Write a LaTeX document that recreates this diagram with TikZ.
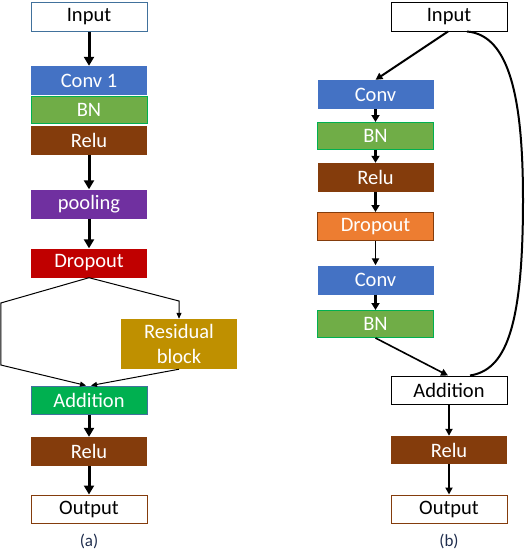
\documentclass[tikz,border=0pt]{standalone}
\usepackage{fontspec}
\setmainfont{Carlito}
\usetikzlibrary{arrows.meta}
\definecolor{cblue}{HTML}{4472C4}
\definecolor{cgreen}{HTML}{70AD47}
\definecolor{cgreenb}{HTML}{00B050}
\definecolor{cbrown}{HTML}{843C0C}
\definecolor{cpurple}{HTML}{7030A0}
\definecolor{cred}{HTML}{C00000}
\definecolor{cgold}{HTML}{BF9000}
\definecolor{cslate}{HTML}{41719C}
\definecolor{corange}{HTML}{ED7D31}
\definecolor{cnavy}{HTML}{1F2D4D}
\tikzset{
  box/.style={rectangle, inner sep=0pt, minimum width=116pt, minimum height=29pt,
    font=\fontsize{20.5}{24}\selectfont, text=white},
  wbox/.style={box, draw, fill=white, text=black, line width=1pt},
  thick arr/.style={line width=3pt, -{Triangle[length=9pt,width=10pt]}},
  mid arr/.style={line width=2.6pt, -{Triangle[length=7pt,width=8pt]}},
  thin arr/.style={line width=1pt, -{Triangle[length=6pt,width=5pt]}},
  captext/.style={font=\fontsize{17}{18}\selectfont, text=cnavy}
}
\begin{document}
\begin{tikzpicture}[x=1pt,y=-1pt]
\useasboundingbox (0,0) rectangle (526,552);
% ---------- (a) ----------
\node[wbox, draw=cslate] (inA) at (89,16.5) {Input};
\node[box, fill=cblue] (convA) at (89,80.5) {Conv 1};
\node[box, fill=cgreen, draw=cgreenb, line width=1pt, minimum height=27pt] (bnA) at (89,110) {BN};
\node[box, fill=cbrown] (reluA) at (89,140) {Relu};
\node[box, fill=cpurple] (poolA) at (89,204) {pooling};
\node[box, fill=cred] (dropA) at (89,263) {Dropout};
\node[box, fill=cgold, minimum height=50pt, align=center, font=\fontsize{20.5}{25}\selectfont] (resA) at (179,344) {Residual\\block};
\node[box, fill=cgreenb, draw=cslate, line width=1pt, minimum height=28pt] (addA) at (89,400) {Addition};
\node[box, fill=cbrown] (relu2A) at (89,451.5) {Relu};
\node[wbox, draw=cbrown, minimum height=28pt] (outA) at (89,509) {Output};
\node[captext] (capA) at (89,541) {(a)};

\draw[thick arr] (inA) -- (convA);
\draw[thick arr] (reluA) -- (poolA);
\draw[thick arr] (poolA) -- (dropA);
\coordinate (lA1) at (0.8,303);
\coordinate (lA2) at (0.8,365);
\coordinate (rA1) at (179,301);
\draw[thin arr] (dropA.south) -- (lA1) -- (lA2) -- ([xshift=-3pt]addA.north);
\draw[thin arr] (dropA.south) -- (rA1) -- (resA.north);
\draw[thin arr] (resA.south) -- ([xshift=2pt]addA.north);
\draw[thick arr] (addA) -- (relu2A);
\draw[thick arr] (relu2A) -- (outA);

% ---------- (b) ----------
\node[wbox, draw=black] (inB) at (449,16.5) {Input};
\node[box, fill=cblue] (convB) at (375.5,94.5) {Conv};
\node[box, fill=cgreen, draw=cgreenb, line width=1pt, minimum height=27pt] (bnB) at (375.5,136) {BN};
\node[box, fill=cbrown] (reluB) at (375.5,177.5) {Relu};
\node[box, fill=corange, draw=cbrown, line width=1pt, minimum height=28pt] (dropB) at (375.5,226.5) {Dropout};
\node[box, fill=cblue] (conv2B) at (375.5,280) {Conv};
\node[box, fill=cgreen, draw=cgreenb, line width=1pt, minimum height=27pt] (bn2B) at (375.5,324) {BN};
\node[wbox, draw=black, minimum height=28pt] (addB) at (449,390) {Addition};
\node[box, fill=cbrown, minimum height=28pt] (reluOB) at (449,450) {Relu};
\node[wbox, draw=cbrown, minimum height=28pt] (outB) at (449,509) {Output};
\node[captext] (capB) at (449,541) {(b)};

\draw[line width=2pt, -{Triangle[length=7pt,width=7pt]}] ([xshift=-1pt]inB.south) -- (convB.north);
\draw[mid arr] (convB) -- (bnB);
\draw[mid arr] (bnB) -- (reluB);
\draw[mid arr] (reluB) -- (dropB);
\draw[line width=1.8pt, -{Triangle[length=7pt,width=7pt]}] (dropB) -- (conv2B);
\draw[mid arr] (conv2B) -- (bn2B);
\draw[line width=1.6pt, -{Triangle[length=7pt,width=7pt]}] (bn2B.south) -- ([xshift=-1pt]addB.north);
\coordinate (cB) at (523,200);
\draw[line width=2pt] ([xshift=18pt]inB.south) .. controls (510,35) and (523,100) .. (cB)
  .. controls (523,330) and (505,370) .. ([xshift=21pt]addB.north);
\draw[line width=1.8pt, -{Triangle[length=7pt,width=7pt]}] (addB) -- (reluOB);
\draw[line width=1.8pt, -{Triangle[length=7pt,width=7pt]}] (reluOB) -- (outB);
\end{tikzpicture}
\end{document}
